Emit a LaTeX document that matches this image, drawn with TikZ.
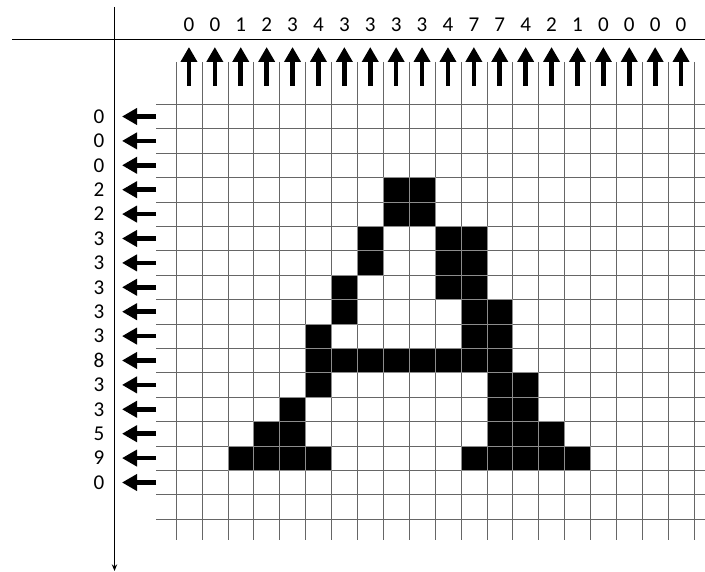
\documentclass[tikz,border=0pt]{standalone}
\usepackage{fontspec}
\setmainfont{Carlito}
\usetikzlibrary{arrows.meta}

\begin{document}
\begin{tikzpicture}[
  x=0.03cm, y=-0.03cm,
  gridline/.style={black!60, line width=0.5pt},
  axis/.style={line width=1.5pt},
  hint/.style={font=\fontsize{18}{20}\selectfont, inner sep=0pt},
  bigarr/.style={-{Triangle[length=0.45cm, width=0.48cm]}, line width=4pt},
  pixel/.style={fill=black, draw=black!45, line width=0.5pt},
]
\useasboundingbox (0,0) rectangle (705,572);

% Grid
\foreach \c in {0,...,20}
  \draw[gridline] ({176+25.9*\c},62) -- ({176+25.9*\c},540);
\foreach \r in {0,...,17}
  \draw[gridline] (156,{104.3+24.4*\r}) -- (705,{104.3+24.4*\r});

% Letter A (row/first column/last column)
\foreach \r/\a/\b in {4/9/10, 5/9/10, 6/8/8, 6/11/12, 7/8/8, 7/11/12,
    8/7/7, 8/11/12, 9/7/7, 9/12/13, 10/6/6, 10/12/13, 11/6/13,
    12/6/6, 12/13/14, 13/5/5, 13/13/14, 14/4/5, 14/13/15,
    15/3/6, 15/12/16}
  \foreach \c in {\a,...,\b}
    \draw[pixel] ({176+25.9*(\c-1)},{104.3+24.4*(\r-1)}) rectangle ++(25.9,24.4);

% Axes
\coordinate (xl) at (12,39.5);
\coordinate (xr) at (705,39.5);
\coordinate (yt) at (114.5,7);
\coordinate (yb) at (114.5,571);
\draw[axis] (xl) -- (xr);
\draw[axis, -{Stealth[length=2mm, width=1.6mm]}] (yt) -- (yb);

% Column sums
\foreach \v [count=\c] in {0,0,1,2,3,4,3,3,3,3,4,7,7,4,2,1,0,0,0,0} {
  \node[hint] (col\c) at ({176+25.9*(\c-0.5)},25) {\v};
  \coordinate (cb\c) at ({176+25.9*(\c-0.5)},86);
  \coordinate (ct\c) at ({176+25.9*(\c-0.5)},47);
  \draw[bigarr] (cb\c) -- (ct\c);
}

% Row sums
\foreach \v [count=\r] in {0,0,0,2,2,3,3,3,3,3,8,3,3,5,9,0} {
  \node[hint] (row\r) at (99,{104.3+24.4*(\r-0.5)}) {\v};
  \coordinate (rr\r) at (156,{104.3+24.4*(\r-0.5)});
  \coordinate (rl\r) at (122,{104.3+24.4*(\r-0.5)});
  \draw[bigarr] (rr\r) -- (rl\r);
}

\end{tikzpicture}
\end{document}
